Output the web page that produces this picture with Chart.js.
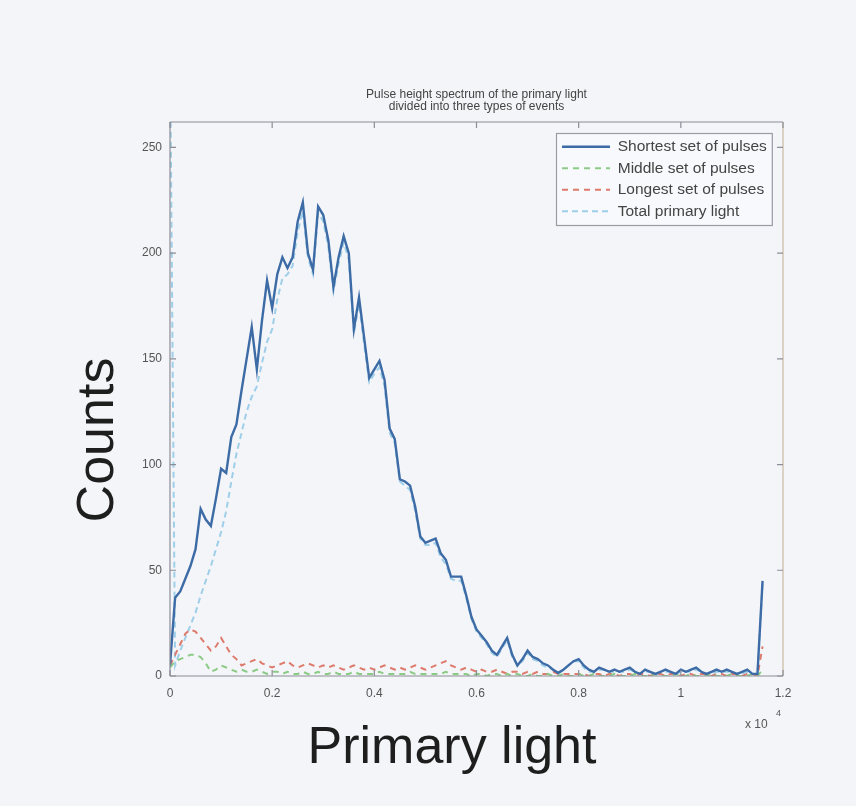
<!DOCTYPE html>
<html>
<head>
<meta charset="utf-8">
<script src="https://cdn.jsdelivr.net/npm/chart.js@4.4.1/dist/chart.umd.min.js"></script>
<style>
  html, body { margin: 0; padding: 0; background: #f4f5f9; }
  #wrap { width: 856px; height: 806px; }
</style>
</head>
<body>
<div id="wrap"><canvas id="spectrum" width="856" height="806"></canvas></div>
<script>
// Bin centres of the primary-light pulse height, in units of 10^4
const binCentres = [
  0.00, 0.01, 0.02, 0.03, 0.04, 0.05, 0.06, 0.07, 0.08, 0.09,
  0.10, 0.11, 0.12, 0.13, 0.14, 0.15, 0.16, 0.17, 0.18, 0.19,
  0.20, 0.21, 0.22, 0.23, 0.24, 0.25, 0.26, 0.27, 0.28, 0.29,
  0.30, 0.31, 0.32, 0.33, 0.34, 0.35, 0.36, 0.37, 0.38, 0.39,
  0.40, 0.41, 0.42, 0.43, 0.44, 0.45, 0.46, 0.47, 0.48, 0.49,
  0.50, 0.51, 0.52, 0.53, 0.54, 0.55, 0.56, 0.57, 0.58, 0.59,
  0.60, 0.61, 0.62, 0.63, 0.64, 0.65, 0.66, 0.67, 0.68, 0.69,
  0.70, 0.71, 0.72, 0.73, 0.74, 0.75, 0.76, 0.77, 0.78, 0.79,
  0.80, 0.81, 0.82, 0.83, 0.84, 0.85, 0.86, 0.87, 0.88, 0.89,
  0.90, 0.91, 0.92, 0.93, 0.94, 0.95, 0.96, 0.97, 0.98, 0.99,
  1.00, 1.01, 1.02, 1.03, 1.04, 1.05, 1.06, 1.07, 1.08, 1.09,
  1.10, 1.11, 1.12, 1.13, 1.14, 1.15, 1.16
];

// Counts per bin for each event type
const shortestCounts = [
  5, 37, 40, 46, 52, 60, 79, 74, 71, 84,
  98, 96, 113, 119, 135, 150, 165, 145, 168, 187,
  174, 190, 198, 193, 198, 215, 224, 200, 192, 222,
  218, 206, 184, 198, 208, 200, 164, 179, 160, 141,
  145, 149, 140, 117, 112, 93, 92, 90, 80, 66,
  63, 64, 65, 58, 55, 47, 47, 47, 38, 28,
  22, 19, 16, 12, 10, 14, 18, 10, 5, 8,
  12, 9, 8, 6, 5, 3, 1.5, 3, 5, 7,
  8, 5, 3, 2, 4, 3, 2, 3, 2, 3,
  4, 2, 1, 3, 2, 1, 2, 3, 2, 1,
  3, 2, 3, 4, 2, 1, 2, 3, 2, 3,
  2, 1, 2, 3, 1, 1, 45
];

const middleCounts = [
  4, 7, 8, 9, 10, 10, 9, 6, 2, 3,
  5, 4, 3, 2, 3, 2, 2, 3, 2, 1,
  2, 2, 1, 2, 1, 1, 2, 1, 1, 2,
  1, 1, 2, 1, 1, 1, 2, 1, 1, 1,
  1, 2, 1, 1, 1, 1, 1, 2, 1, 1,
  1, 1, 1, 1, 2, 1, 1, 1, 1, 0,
  1, 1, 0, 1, 1, 0, 1, 0, 1, 0,
  0, 1, 0, 0, 1, 0, 0, 1, 0, 0,
  1, 0, 0, 1, 0, 0, 0, 1, 0, 0,
  0, 1, 0, 0, 0, 1, 0, 0, 0, 1,
  0, 0, 1, 0, 0, 0, 1, 0, 0, 0,
  1, 0, 0, 0, 1, 0, 3
];

const longestCounts = [
  5, 10, 15, 20, 22, 21, 18, 15, 12, 14,
  18, 14, 10, 8, 5, 6, 7, 8, 6, 5,
  4, 5, 6, 7, 5, 4, 5, 6, 5, 4,
  5, 4, 5, 4, 3, 4, 5, 4, 3, 4,
  3, 4, 5, 4, 3, 4, 3, 4, 5, 4,
  3, 4, 5, 6, 7, 5, 4, 3, 4, 3,
  2, 3, 2, 2, 3, 2, 1, 2, 2, 1,
  2, 1, 2, 1, 1, 2, 1, 1, 1, 1,
  1, 1, 0, 1, 1, 0, 1, 1, 0, 1,
  1, 0, 1, 1, 0, 1, 1, 0, 1, 1,
  0, 1, 1, 0, 1, 1, 0, 1, 1, 0,
  1, 1, 0, 1, 1, 0, 14
];

const totalCounts = [
  300, 5, 12, 18, 24, 30, 38, 45, 52, 60,
  68, 78, 92, 105, 115, 125, 132, 137, 148, 158,
  164, 178, 188, 190, 194, 210, 220, 198, 190, 219,
  215, 203, 182, 195, 205, 197, 162, 176, 157, 139,
  143, 146, 137, 115, 110, 92, 90, 88, 78, 65,
  62, 62, 63, 56, 53, 46, 45, 45, 37, 27,
  21, 18, 15, 11, 9, 13, 17, 9, 5, 7,
  11, 8, 7, 5, 4, 3, 1, 3, 5, 7,
  7, 4, 2, 2, 3, 3, 2, 2, 2, 2,
  3, 2, 1, 2, 2, 1, 1, 2, 2, 1,
  2, 2, 2, 3, 2, 1, 1, 2, 2, 2,
  2, 1, 1, 2, 1, 1, 44
];

const seriesNames = [
  'Shortest set of pulses',
  'Middle set of pulses',
  'Longest set of pulses',
  'Total primary light'
];

const xTickValues = [0, 0.2, 0.4, 0.6, 0.8, 1.0, 1.2];
const xTickLabels = ['0', '0.2', '0.4', '0.6', '0.8', '1', '1.2'];
const yTickValues = [0, 50, 100, 150, 200, 250];
const yTickLabels = ['0', '50', '100', '150', '200', '250'];

const xAxisTitle = 'Primary light';
const yAxisTitle = 'Counts';

const FONT = "'Liberation Sans', Arial, Helvetica, sans-serif";
const BG = '#f4f5f9';

function toPoints(values) {
  return binCentres.map((x, i) => ({ x: x, y: values[i] }));
}

// Legend sits inside the top-right corner of the axes, with a thin frame
const legendBox = { left: 556, top: 133, padding: 6, fontSize: 15.5, sample: 48 };

const axesDecor = {
  id: 'axesDecor',
  afterLayout(chart) {
    const lg = chart.legend;
    if (!lg) return;
    const h = lg.columnSizes && lg.columnSizes.length ? lg.columnSizes[0].height : 84;
    lg.left = legendBox.left;
    lg.top = legendBox.top;
    lg.right = legendBox.left + lg.width;
    lg.bottom = legendBox.top + h + 2 * legendBox.padding + 4;
    lg.height = lg.bottom - lg.top;
  },
  beforeDraw(chart) {
    const ctx = chart.ctx;
    ctx.save();
    ctx.fillStyle = BG;
    ctx.fillRect(0, 0, chart.width, chart.height);
    // legend frame
    ctx.font = legendBox.fontSize + 'px ' + FONT;
    let maxW = 0;
    seriesNames.forEach(n => { maxW = Math.max(maxW, ctx.measureText(n).width); });
    const textX = legendBox.left + legendBox.padding + legendBox.sample + legendBox.fontSize / 2;
    const right = textX + maxW + 5;
    const bottom = legendBox.top + legendBox.padding + 4 * 21.5;
    ctx.fillStyle = '#f8f9fc';
    ctx.fillRect(legendBox.left, legendBox.top, right - legendBox.left, bottom - legendBox.top);
    ctx.strokeStyle = '#9a9ca4';
    ctx.lineWidth = 1.2;
    ctx.strokeRect(legendBox.left + 0.5, legendBox.top + 0.5, right - legendBox.left, bottom - legendBox.top);
    ctx.restore();
  },
  afterDatasetsDraw(chart) {
    const ctx = chart.ctx;
    const { left, right, top, bottom } = chart.chartArea;
    const xs = chart.scales.x, ys = chart.scales.y;
    ctx.save();
    ctx.lineWidth = 1.2;
    ctx.strokeStyle = '#8c8e96';
    ctx.beginPath();
    ctx.moveTo(left, top); ctx.lineTo(right, top);
    ctx.moveTo(left, bottom); ctx.lineTo(right, bottom);
    ctx.moveTo(left, top); ctx.lineTo(left, bottom);
    ctx.stroke();
    ctx.strokeStyle = '#c9b9a2';
    ctx.beginPath();
    ctx.moveTo(right, top); ctx.lineTo(right, bottom);
    ctx.stroke();
    // inward tick marks on all four sides
    ctx.strokeStyle = '#8c8e96';
    ctx.beginPath();
    xTickValues.forEach(v => {
      const px = xs.getPixelForValue(v);
      ctx.moveTo(px, bottom); ctx.lineTo(px, bottom - 6);
      ctx.moveTo(px, top); ctx.lineTo(px, top + 6);
    });
    yTickValues.forEach(v => {
      const py = ys.getPixelForValue(v);
      ctx.moveTo(left, py); ctx.lineTo(left + 6, py);
      ctx.moveTo(right, py); ctx.lineTo(right - 6, py);
    });
    ctx.stroke();
    ctx.restore();
  },
  afterDraw(chart) {
    const ctx = chart.ctx;
    ctx.save();
    // axis titles
    ctx.fillStyle = '#1e1e1e';
    ctx.font = '52px ' + FONT;
    ctx.textAlign = 'center';
    ctx.textBaseline = 'middle';
    ctx.fillText(xAxisTitle, 452, 749);
    ctx.save();
    ctx.translate(99, 440);
    ctx.rotate(-Math.PI / 2);
    ctx.fillText(yAxisTitle, 0, 0);
    ctx.restore();
    // x 10^4 multiplier under the right end of the x axis
    ctx.fillStyle = '#555';
    ctx.textBaseline = 'alphabetic';
    ctx.textAlign = 'left';
    ctx.font = '12px ' + FONT;
    ctx.fillText('x 10', 745, 728);
    ctx.font = '9px ' + FONT;
    ctx.fillText('4', 776, 716);
    ctx.restore();
  }
};

new Chart(document.getElementById('spectrum'), {
  type: 'line',
  data: {
    datasets: [
      {
        label: seriesNames[0],
        data: toPoints(shortestCounts),
        borderColor: '#3d6ba6',
        backgroundColor: '#3d6ba6',
        borderWidth: 2.4,
        pointRadius: 0,
        pointStyle: 'line',
        tension: 0
      },
      {
        label: seriesNames[1],
        data: toPoints(middleCounts),
        borderColor: '#8ccb86',
        backgroundColor: '#8ccb86',
        borderWidth: 2,
        borderDash: [6, 5],
        pointRadius: 0,
        pointStyle: 'line',
        tension: 0
      },
      {
        label: seriesNames[2],
        data: toPoints(longestCounts),
        borderColor: '#de7a6c',
        backgroundColor: '#de7a6c',
        borderWidth: 2,
        borderDash: [6, 5],
        pointRadius: 0,
        pointStyle: 'line',
        tension: 0
      },
      {
        label: seriesNames[3],
        data: toPoints(totalCounts),
        borderColor: '#9fcfe8',
        backgroundColor: '#9fcfe8',
        borderWidth: 2,
        borderDash: [6, 4],
        pointRadius: 0,
        pointStyle: 'line',
        tension: 0
      }
    ]
  },
  options: {
    responsive: false,
    animation: false,
    devicePixelRatio: 1,
    layout: { padding: { left: 0, right: 73, top: 0, bottom: 0 } },
    plugins: {
      title: {
        display: true,
        fullSize: false,
        text: ['Pulse height spectrum of the primary light', 'divided into three types of events'],
        color: '#444',
        font: { family: FONT, size: 12, weight: 'normal', lineHeight: 1.0 },
        padding: { top: 89, bottom: 9 }
      },
      legend: {
        position: 'chartArea',
        align: 'start',
        labels: {
          usePointStyle: true,
          pointStyleWidth: legendBox.sample,
          padding: legendBox.padding,
          color: '#444',
          font: { family: FONT, size: legendBox.fontSize },
          generateLabels: chart => {
            const items = Chart.defaults.plugins.legend.labels.generateLabels(chart);
            items.forEach(it => {
              const ds = chart.data.datasets[it.datasetIndex];
              it.lineDash = ds.borderDash || [];
              it.lineWidth = ds.borderWidth;
              it.strokeStyle = ds.borderColor;
            });
            return items;
          }
        }
      },
      tooltip: { enabled: false }
    },
    scales: {
      x: {
        type: 'linear',
        min: 0,
        max: 1.2,
        afterBuildTicks: s => { s.ticks = xTickValues.map(v => ({ value: v })); },
        afterFit: s => { s.height = 130; },
        grid: { display: false, drawTicks: false },
        border: { display: false },
        ticks: {
          autoSkip: false,
          maxRotation: 0,
          padding: 10,
          color: '#555',
          font: { family: FONT, size: 12 },
          callback: (v, i) => xTickLabels[i]
        }
      },
      y: {
        type: 'linear',
        min: 0,
        max: 262,
        afterBuildTicks: s => { s.ticks = yTickValues.map(v => ({ value: v })); },
        afterFit: s => { s.width = 170; },
        grid: { display: false, drawTicks: false },
        border: { display: false },
        ticks: {
          padding: 8,
          color: '#555',
          font: { family: FONT, size: 12 },
          callback: (v, i) => yTickLabels[i]
        }
      }
    }
  },
  plugins: [axesDecor]
});
</script>
</body>
</html>
